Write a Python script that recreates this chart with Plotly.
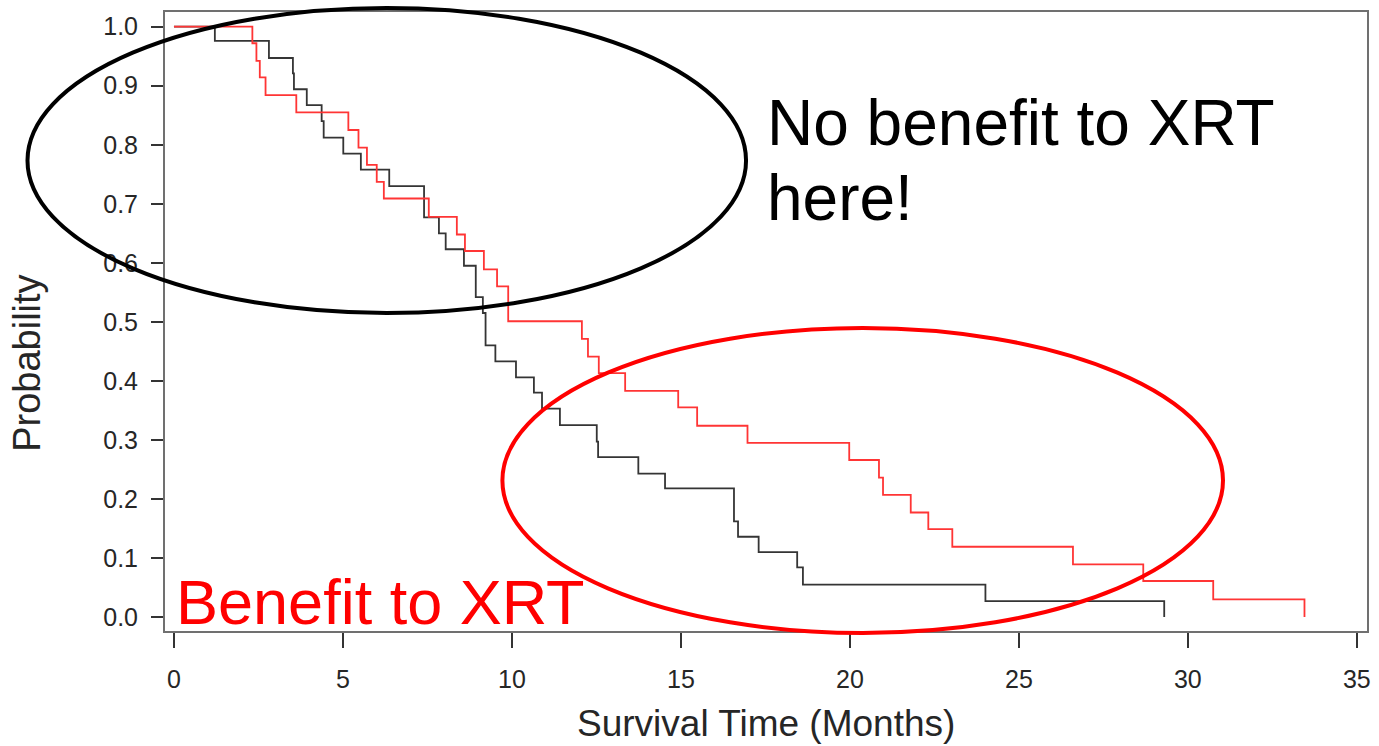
import plotly.graph_objects as go

# Kaplan-Meier style step data
control_time = [0, 1.21, 2.81, 3.52, 3.55, 3.93, 4.37, 4.43, 5.01, 5.53, 6.37, 7.40, 7.84,
                8.04, 8.58, 8.93, 9.14, 9.22, 9.51, 10.12, 10.65, 10.89, 11.42, 12.51,
                12.55, 13.74, 14.53, 16.57, 16.69, 17.30, 18.44, 18.61, 24.01, 29.30]
control_surv = [1.0, 0.976, 0.947, 0.921, 0.894, 0.867, 0.840, 0.812, 0.785, 0.758, 0.730,
                0.677, 0.650, 0.623, 0.595, 0.542, 0.515, 0.460, 0.433, 0.406, 0.380, 0.353,
                0.325, 0.297, 0.271, 0.243, 0.218, 0.162, 0.136, 0.110, 0.084, 0.055, 0.027, 0.0]

xrt_time = [0, 2.32, 2.44, 2.54, 2.71, 3.62, 5.16, 5.46, 5.71, 6.00, 6.21, 7.54, 8.37, 8.61,
            9.17, 9.56, 9.89, 12.07, 12.25, 12.57, 13.35, 14.92, 15.48, 16.97, 19.98, 20.86,
            20.98, 21.80, 22.32, 23.03, 26.60, 28.68, 30.75, 33.45]
xrt_surv = [1.0, 0.972, 0.942, 0.914, 0.884, 0.855, 0.825, 0.795, 0.766, 0.737, 0.709, 0.678,
            0.648, 0.620, 0.589, 0.560, 0.501, 0.471, 0.441, 0.413, 0.383, 0.355, 0.324, 0.295,
            0.266, 0.236, 0.207, 0.177, 0.149, 0.119, 0.089, 0.061, 0.030, 0.0]

x_ticks = [0, 5, 10, 15, 20, 25, 30, 35]
y_ticks = [0.0, 0.1, 0.2, 0.3, 0.4, 0.5, 0.6, 0.7, 0.8, 0.9, 1.0]

FONT = "Liberation Sans, Arial, sans-serif"

fig = go.Figure()
fig.add_trace(go.Scatter(x=control_time, y=control_surv, mode="lines", line_shape="hv",
                         line=dict(color="#353535", width=1.8), name="Control",
                         showlegend=False))
fig.add_trace(go.Scatter(x=xrt_time, y=xrt_surv, mode="lines", line_shape="hv",
                         line=dict(color="#ff3535", width=1.8), name="XRT",
                         showlegend=False))

fig.update_layout(
    width=1379, height=746,
    margin=dict(l=165, r=8, t=12, b=115),
    paper_bgcolor="white", plot_bgcolor="white",
    font=dict(family=FONT, color="#262626"),
    xaxis=dict(range=[-0.265, 35.3], tickvals=x_ticks, ticks="outside", ticklen=15,
               tickwidth=2, tickcolor="#333333", showline=True, mirror=True,
               linecolor="#707070", linewidth=2, showgrid=False, zeroline=False,
               tickfont=dict(size=25, family=FONT, color="#262626"),
               ticklabelstandoff=10),
    yaxis=dict(range=[-0.0237, 1.0249], tickvals=y_ticks, tickformat=".1f",
               ticks="outside", ticklen=12, tickwidth=2, tickcolor="#333333",
               showline=True, mirror=True, linecolor="#707070", linewidth=2,
               showgrid=False, zeroline=False,
               tickfont=dict(size=25, family=FONT, color="#262626"),
               ticklabelstandoff=8),
    shapes=[
        dict(type="circle", xref="paper", yref="paper", x0=-0.1144, x1=0.4834,
             y0=0.5137, y1=1.0065, line=dict(color="black", width=4)),
        dict(type="circle", xref="paper", yref="paper", x0=0.2807, x1=0.8802,
             y0=-0.0032, y1=0.4895, line=dict(color="#ff0000", width=4)),
    ],
    annotations=[
        dict(text="Survival Time (Months)", xref="paper", yref="paper", x=0.5, y=-0.150,
             xanchor="center", yanchor="middle", showarrow=False,
             font=dict(size=37, family=FONT, color="#262626")),
        dict(text="Probability", xref="paper", yref="paper", x=-0.1154, y=0.4321,
             xanchor="center", yanchor="middle", textangle=-90, showarrow=False,
             font=dict(size=38, family=FONT, color="#262626")),
        dict(text="No benefit to XRT", xref="paper", yref="paper", x=0.4992, y=0.8207,
             xanchor="left", yanchor="middle", showarrow=False,
             font=dict(size=64, family=FONT, color="black")),
        dict(text="here!", xref="paper", yref="paper", x=0.4992, y=0.6995,
             xanchor="left", yanchor="middle", showarrow=False,
             font=dict(size=64, family=FONT, color="black")),
        dict(text="Benefit to XRT", xref="paper", yref="paper", x=0.0075, y=0.0468,
             xanchor="left", yanchor="middle", showarrow=False,
             font=dict(size=63, family=FONT, color="#ff0000")),
    ],
)

fig.write_html("out.html")
